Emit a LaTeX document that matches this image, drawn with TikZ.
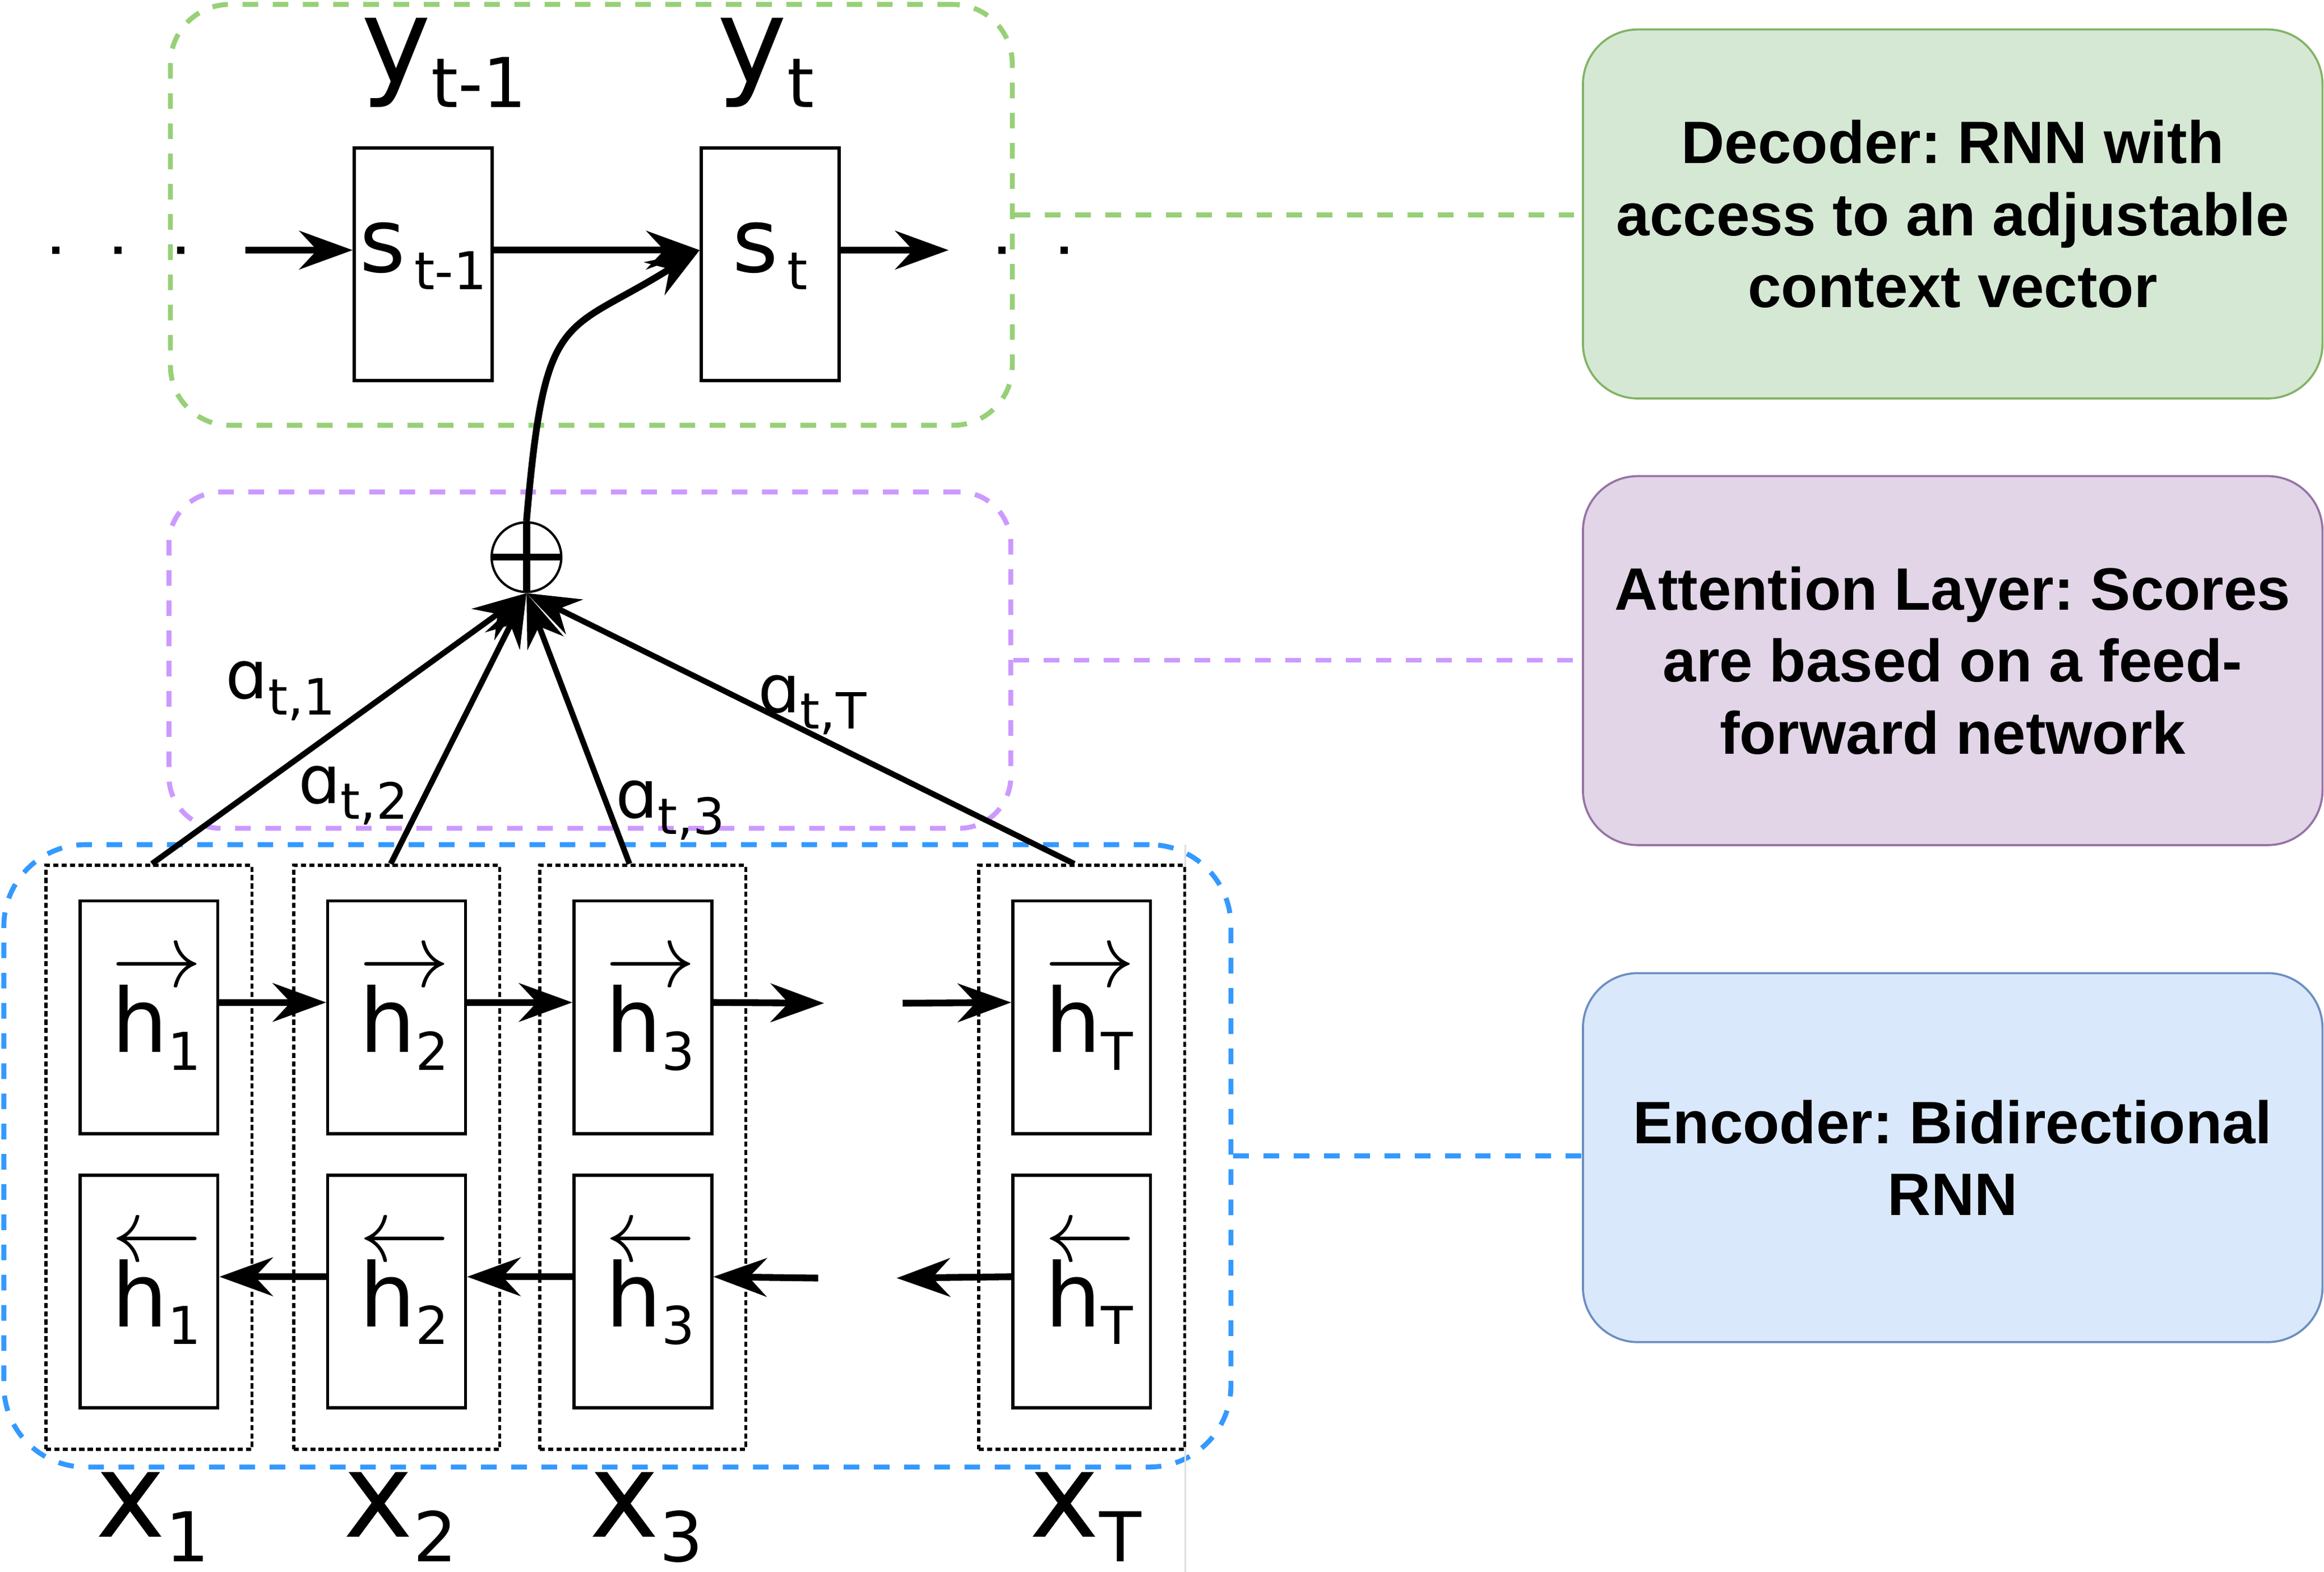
\documentclass[tikz,border=0pt]{standalone}
\usepackage{fontspec}
\setmainfont{Liberation Sans}
\newfontfamily\dejavu{DejaVu Sans}
\usepackage{tikz}
\usetikzlibrary{positioning,arrows.meta,fit}
\usepackage{xcolor}
\frenchspacing

\definecolor{decline}{HTML}{97D077}
\definecolor{attline}{HTML}{CC99FF}
\definecolor{encline}{HTML}{3399FF}
\definecolor{decfill}{HTML}{D5E8D4}
\definecolor{decdraw}{HTML}{82B366}
\definecolor{attfill}{HTML}{E1D5E7}
\definecolor{attdraw}{HTML}{9673A6}
\definecolor{encfill}{HTML}{DAE8FC}
\definecolor{encdraw}{HTML}{6C8EBF}

% symbols with a lowered index
\newcommand{\bigsym}[2]{#1\raisebox{-4.8pt}{\fontsize{13.2}{13.2}\selectfont #2}}
\newcommand{\cellsym}[2]{#1\raisebox{-3.4pt}{\fontsize{10}{10}\selectfont #2}}
\newcommand{\wsym}[1]{ɑ\raisebox{-3.1pt}{\fontsize{9.6}{9.6}\selectfont #1}}
\newcommand{\hvec}[2]{\hspace{1mm}\makebox[0pt][l]{\raisebox{4.43mm}{\fontsize{19}{19}\selectfont$#1$}}\cellsym{h}{#2}}

\begin{document}
\begin{tikzpicture}[x=0.1mm, y=-0.1mm, >={Stealth[length=3.6mm,width=2.6mm,inset=1.2mm]}]
\tikzstyle{cell}=[rectangle, draw, line width=0.6pt, minimum width=9.3mm, minimum height=15.7mm, inner sep=0pt, font=\dejavu\fontsize{17}{20}\selectfont]
\tikzstyle{scell}=[cell, text height=3pt, text depth=0pt]
\tikzstyle{hcell}=[cell, text height=13.5pt, text depth=0pt]
\tikzstyle{column}=[rectangle, draw, line width=0.6pt, dash pattern=on 1pt off 0.6pt, minimum width=13.9mm, minimum height=39.4mm, inner sep=0pt]
\tikzstyle{group}=[rectangle, line width=0.95pt, dash pattern=on 3pt off 2.8pt, inner sep=0pt]
\tikzstyle{note}=[rectangle, rounded corners=3.7mm, line width=0.4pt, minimum width=49.9mm, minimum height=24.9mm, align=center, font=\bfseries\fontsize{11.5}{13.8}\selectfont]
\tikzstyle{big}=[inner sep=0pt, font=\dejavu\fontsize{22.7}{27}\selectfont]
\tikzstyle{wlab}=[inner sep=0pt, font=\dejavu\fontsize{12.8}{15}\selectfont]
\tikzstyle{sumnode}=[circle, draw, line width=0.45pt, minimum size=4.7mm, inner sep=0pt, path picture={\draw[line width=1.25pt] (path picture bounding box.west) -- (path picture bounding box.east); \draw[line width=1.4pt] (path picture bounding box.north) -- (path picture bounding box.south);}]
\tikzstyle{flow}=[->, line width=1.3pt]
\tikzstyle{weight}=[->, line width=1.1pt]
\tikzstyle{link}=[line width=0.95pt, dash pattern=on 3pt off 2.8pt]

\useasboundingbox (0,0) rectangle (1568,1060.8);

% Dashed group boxes
\node[group, draw=decline, rounded corners=4mm, fit={(115,3) (683,287)}] (decgrp) {};
\node[group, draw=attline, rounded corners=3.5mm, fit={(114,332) (682,559)}] (attgrp) {};
\node[group, draw=encline, rounded corners=5.5mm, fit={(2.6,570) (830.5,990)}] (encgrp) {};
\draw[gray!25, line width=0.3pt] (799.6,570) -- (799.6,1060.8);

% Decoder states
\node[scell] (sprev) at (285.5,178.3) {\cellsym{s}{\,t-1}};
\node[scell, right=13.9mm of sprev] (st) {\cellsym{s}{\,t}};
\node[big, anchor=base] (yprev) at ([xshift=1.4mm, yshift=4.3mm]sprev.north) {\bigsym{y}{t-1}};
\node[big, anchor=base] (yt) at ([xshift=-.3mm, yshift=4.3mm]st.north) {\bigsym{y}{t}};
\coordinate (sin) at (165.5,168.8);
\coordinate (sout) at (640,168.8);
\fill (35.2,166.4) rectangle +(4.8,4.8);
\fill (77.2,166.4) rectangle +(4.8,4.8);
\fill (119.6,166.4) rectangle +(4.8,4.8);
\fill (673.6,166.4) rectangle +(4.8,4.8);
\fill (715.6,166.4) rectangle +(4.8,4.8);
\draw[flow] (sin) -- ([yshift=.95mm]sprev.west);
\draw[flow] ([yshift=.95mm]sprev.east) -- ([yshift=.95mm]st.west);
\draw[flow] ([yshift=.95mm]st.east) -- (sout);

% Encoder columns
\node[column] (col1) at (100.5,781) {};
\node[column, right=2.6mm of col1] (col2) {};
\node[column, right=2.5mm of col2] (col3) {};
\node[column, right=15.5mm of col3] (colT) {};
\node[hcell, below=2.4mm of col1.north] (hf1) {\hvec{\rightarrow}{1}};
\node[hcell, below=2.4mm of col2.north] (hf2) {\hvec{\rightarrow}{2}};
\node[hcell, below=2.4mm of col3.north] (hf3) {\hvec{\rightarrow}{3}};
\node[hcell, below=2.4mm of colT.north] (hfT) {\hvec{\rightarrow}{T}};
\node[hcell, below=2.6mm of hf1] (hb1) {\hvec{\leftarrow}{1}};
\node[hcell, below=2.6mm of hf2] (hb2) {\hvec{\leftarrow}{2}};
\node[hcell, below=2.6mm of hf3] (hb3) {\hvec{\leftarrow}{3}};
\node[hcell, below=2.6mm of hfT] (hbT) {\hvec{\leftarrow}{T}};
\node[big, anchor=base] (x1) at ([xshift=.25mm, yshift=-5.8mm]col1.south) {\bigsym{x}{1}};
\node[big, anchor=base] (x2) at ([xshift=.25mm, yshift=-5.8mm]col2.south) {\bigsym{x}{2}};
\node[big, anchor=base] (x3) at ([xshift=.25mm, yshift=-5.8mm]col3.south) {\bigsym{x}{3}};
\node[big, anchor=base] (xT) at ([xshift=.25mm, yshift=-5.8mm]colT.south) {\bigsym{x}{T}};

% Forward and backward passes
\coordinate (hout) at (556,677);
\coordinate (hin) at (609,677);
\coordinate (bin) at (552,862.5);
\coordinate (bout) at (605,862.5);
\draw[flow] ([yshift=1mm]hf1.east) -- ([yshift=1mm]hf2.west);
\draw[flow] ([yshift=1mm]hf2.east) -- ([yshift=1mm]hf3.west);
\draw[flow] ([yshift=1mm]hf3.east) -- (hout);
\draw[flow] (hin) -- ([yshift=1mm]hfT.west);
\draw[flow] ([yshift=1mm]hb2.west) -- ([yshift=1mm]hb1.east);
\draw[flow] ([yshift=1mm]hb3.west) -- ([yshift=1mm]hb2.east);
\draw[flow] (bin) -- ([yshift=1mm]hb3.east);
\draw[flow] ([yshift=1mm]hbT.west) -- (bout);

% Attention weights
\node[sumnode] (sum) at (355.2,376) {};
\draw[weight] ([xshift=.2mm]col1.north) -- (sum.south);
\draw[weight] ([xshift=-.4mm]col2.north) -- (sum.south);
\draw[weight] ([xshift=-.9mm]col3.north) -- (sum.south);
\draw[weight] ([xshift=-.5mm]colT.north) -- (sum.south);
\node[wlab, anchor=base] (a1) at (189.4,471.5) {\wsym{t,1}};
\node[wlab, anchor=base] (a2) at (238.3,542) {\wsym{t,2}};
\node[wlab, anchor=base] (a3) at (452.3,552) {\wsym{t,3}};
\node[wlab, anchor=base] (aT) at (548,481) {\wsym{t,T}};
\draw[flow] (sum.north) .. controls (367.8,205.2) and (379.5,227.1) .. ([yshift=.95mm]st.west);

% Explanations on the right
\node[note, fill=decfill, draw=decdraw] (decbox) at (1317.5,144.4) {Decoder: RNN with\\access to an adjustable\\context vector};
\node[note, fill=attfill, draw=attdraw, below=5.1mm of decbox] (attbox) {Attention Layer: Scores\\are based on a feed-\\forward network};
\node[note, fill=encfill, draw=encdraw, below=8.5mm of attbox] (encbox) {Encoder: Bidirectional\\RNN};
\draw[link, draw=decline] (decgrp.east) -- (decgrp.east -| decbox.west);
\draw[link, draw=attline] (attgrp.east) -- (attgrp.east -| attbox.west);
\draw[link, draw=encline] (encgrp.east) -- (encgrp.east -| encbox.west);
\end{tikzpicture}
\end{document}
